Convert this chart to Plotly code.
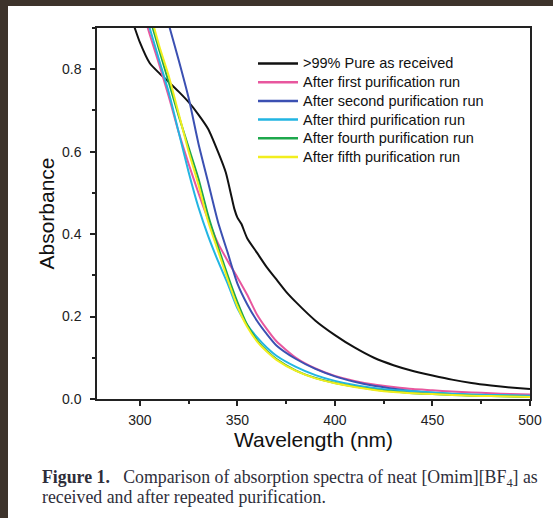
import plotly.graph_objects as go

# ---------------- data ----------------
wl_black = [290, 297, 300, 305, 310, 315, 320, 325, 330, 335, 340, 344, 347, 348.5, 350, 352,
            355, 360, 365, 370, 375, 380, 390, 400, 410, 420, 430, 440, 450, 460, 470, 480, 490, 500]
abs_black = [1.0, 0.905, 0.865, 0.815, 0.79, 0.768, 0.745, 0.72, 0.69, 0.655, 0.60, 0.55, 0.49, 0.46,
             0.44, 0.425, 0.39, 0.355, 0.32, 0.29, 0.26, 0.235, 0.19, 0.155, 0.125, 0.10, 0.082,
             0.068, 0.057, 0.047, 0.039, 0.033, 0.028, 0.024]

wl = [290, 300, 305, 310, 315, 320, 325, 330, 335, 340, 345, 350, 355, 360, 365, 370,
      380, 390, 400, 410, 420, 430, 440, 450, 460, 470, 480, 490, 500]
abs_first = [1.13, 0.965, 0.885, 0.81, 0.73, 0.645, 0.57, 0.50, 0.435, 0.378, 0.335, 0.295, 0.253,
             0.205, 0.17, 0.14, 0.10, 0.074, 0.056, 0.044, 0.035, 0.029, 0.024, 0.021, 0.018,
             0.016, 0.014, 0.012, 0.011]
abs_second = [1.3, 1.12, 1.05, 0.99, 0.905, 0.82, 0.73, 0.62, 0.525, 0.43, 0.355, 0.28, 0.23,
              0.19, 0.158, 0.13, 0.097, 0.073, 0.055, 0.042, 0.032, 0.025, 0.019, 0.015, 0.012,
              0.010, 0.008, 0.007, 0.006]
abs_third = [1.15, 0.98, 0.90, 0.82, 0.74, 0.645, 0.55, 0.465, 0.395, 0.335, 0.28, 0.22, 0.18,
             0.15, 0.125, 0.105, 0.078, 0.058, 0.044, 0.034, 0.027, 0.022, 0.019, 0.016, 0.013,
             0.011, 0.010, 0.009, 0.008]
abs_fourth = [1.18, 1.0, 0.925, 0.845, 0.765, 0.685, 0.61, 0.535, 0.445, 0.37, 0.30, 0.235, 0.18,
              0.143, 0.117, 0.097, 0.069, 0.051, 0.039, 0.030, 0.023, 0.018, 0.014, 0.012, 0.010,
              0.008, 0.007, 0.006, 0.005]
abs_fifth = [1.2, 1.02, 0.94, 0.855, 0.78, 0.69, 0.60, 0.52, 0.43, 0.36, 0.29, 0.225, 0.175,
             0.14, 0.115, 0.095, 0.068, 0.050, 0.038, 0.029, 0.022, 0.017, 0.014, 0.012, 0.010,
             0.008, 0.007, 0.006, 0.005]

names = [">99% Pure as received", "After first purification run", "After second purification run",
         "After third purification run", "After fourth purification run", "After fifth purification run"]
colors = ["#111111", "#e8579e", "#3b50b2", "#22b5e2", "#1ea84c", "#f2ee1e"]

x_ticks = [300, 350, 400, 450, 500]
y_ticks = [0.0, 0.2, 0.4, 0.6, 0.8]
y_ticklabels = ["0.0", "0.2", "0.4", "0.6", "0.8"]

# ---------------- figure ----------------
W, H = 553, 518
L, R, T, B = 97, 23, 28, 119
pw, ph = W - L - R, H - T - B

def px_x(x):
    return (x - L) / pw

def px_y(y):
    return (H - B - y) / ph

SANS = "Liberation Sans, Arial, sans-serif"
SERIF = "Liberation Serif, Times New Roman, serif"

fig = go.Figure()
series = [(wl_black, abs_black), (wl, abs_first), (wl, abs_second),
          (wl, abs_third), (wl, abs_fourth), (wl, abs_fifth)]
for (xs, ys), n, c in zip(series, names, colors):
    fig.add_trace(go.Scatter(x=xs, y=ys, mode="lines", name=n, showlegend=False,
                             line=dict(color=c, width=2, shape="spline", smoothing=0.6)))

# legend drawn as key lines + text (matching the reference's compact spacing)
leg_x0, leg_x1, leg_tx, leg_y0, leg_dy = 258, 298, 301, 63.5, 18.7
for i, (n, c) in enumerate(zip(names, colors)):
    yy = px_y(leg_y0 + i * leg_dy)
    fig.add_shape(type="line", xref="paper", yref="paper", x0=px_x(leg_x0), x1=px_x(leg_x1),
                  y0=yy, y1=yy, line=dict(color=c, width=2.5))
    fig.add_annotation(xref="paper", yref="paper", x=px_x(leg_tx), y=yy, xanchor="left",
                       yanchor="middle", showarrow=False, text=n,
                       font=dict(family=SANS, size=14.5, color="#111"))

axis_font = dict(family=SANS, size=14, color="#222222")
fig.update_xaxes(range=[278, 500], tickvals=x_ticks, ticks="outside", ticklen=5, tickwidth=1.5,
                 tickcolor="#222", showline=True, linecolor="#222", linewidth=1.5, mirror=True,
                 showgrid=False, zeroline=False, tickfont=axis_font, ticklabelstandoff=2,
                 minor=dict(ticks="outside", ticklen=3, tickwidth=1.5, tickcolor="#222", dtick=25, tick0=275),
                 title=dict(text="Wavelength (nm)", font=dict(family=SANS, size=21, color="#111"),
                            standoff=6))
fig.update_yaxes(range=[0, 0.9], tickvals=y_ticks, ticktext=y_ticklabels, ticks="outside", ticklen=5,
                 tickwidth=1.5, tickcolor="#222", showline=True, linecolor="#222", linewidth=1.5,
                 mirror=True, showgrid=False, zeroline=False, tickfont=axis_font, ticklabelstandoff=6,
                 minor=dict(ticks="outside", ticklen=3, tickwidth=1.5, tickcolor="#222", dtick=0.1, tick0=0),
                 title=dict(text="Absorbance", font=dict(family=SANS, size=21, color="#111"),
                            standoff=2))

# white page over a dark border (top and left)
fig.add_shape(type="rect", xref="paper", yref="paper", x0=px_x(8), x1=px_x(W + 5),
              y0=px_y(H + 5), y1=px_y(6), fillcolor="white", line=dict(width=0), layer="below")

fig.add_annotation(xref="paper", yref="paper", x=px_x(40), y=px_y(478), xanchor="left", yanchor="middle",
                   showarrow=False, align="left",
                   text="<b>Figure 1.</b>&nbsp;&nbsp; Comparison of absorption spectra of neat [Omim][BF<sub>4</sub>] as",
                   font=dict(family=SERIF, size=17.8, color="#2e2e3a"))
fig.add_annotation(xref="paper", yref="paper", x=px_x(40), y=px_y(497), xanchor="left", yanchor="middle",
                   showarrow=False, align="left",
                   text="received and after repeated purification.",
                   font=dict(family=SERIF, size=17.8, color="#2e2e3a"))

fig.update_layout(
    width=W, height=H,
    margin=dict(l=L, r=R, t=T, b=B),
    paper_bgcolor="#3d332b", plot_bgcolor="white",
    showlegend=False,
)

fig.write_html("out.html", config={"displayModeBar": False},
               post_script="document.body.style.margin='0';")
